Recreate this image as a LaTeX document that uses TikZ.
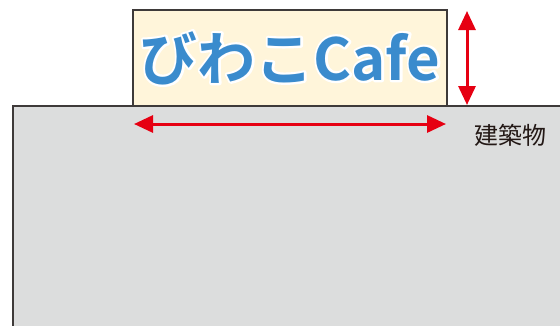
\documentclass[tikz,border=0pt]{standalone}
\usepackage{fontspec}
\newfontfamily\jpbold{Noto Sans CJK JP Bold}
\newfontfamily\jp{Noto Sans CJK JP}
\usetikzlibrary{arrows.meta}
\definecolor{bldg}{HTML}{DCDDDD}
\definecolor{edge}{HTML}{3E3A39}
\definecolor{cream}{HTML}{FFF5DA}
\definecolor{signblue}{HTML}{3A8BCD}
\definecolor{arrred}{HTML}{E60012}
\definecolor{txt}{HTML}{231815}
\newcommand{\haloed}[1]{\special{pdf:literal direct 2 Tr 4.5 w 1 1 1 RG 1 J 1 j}#1\special{pdf:literal direct 0 Tr}}
\tikzset{
  dimarrow/.style={draw=arrred, line width=3pt, {Triangle[length=19pt,width=17pt]}-{Triangle[length=19pt,width=17pt]}},
  signtext/.style={font=\jpbold\fontsize{58}{62}\selectfont, inner sep=0pt},
}
\begin{document}
\begin{tikzpicture}[x=1pt,y=-1pt]
\useasboundingbox (0,0) rectangle (560,325);
\path[fill=bldg, draw=edge, line width=1.3pt] (13,340) -- (13,106) -- (575,106) -- (575,340);
\node[draw=edge, fill=cream, line width=1.3pt, minimum width=314pt, minimum height=96pt, inner sep=0pt] (sign) at (290,58) {};
\node[signtext, text=white] (halo) at (sign.center) {\haloed{びわこCafe}};
\node[signtext, text=signblue] (title) at (sign.center) {びわこCafe};
\coordinate (hl) at (134,124);
\coordinate (hr) at (446,124);
\draw[dimarrow] (hl) -- (hr);
\coordinate (vt) at (467,11);
\coordinate (vb) at (467,105);
\draw[dimarrow] (vt) -- (vb);
\node[font=\jp\fontsize{24}{26}\selectfont, text=txt, inner sep=0pt] (label) at (510,135) {建築物};
\end{tikzpicture}
\end{document}
